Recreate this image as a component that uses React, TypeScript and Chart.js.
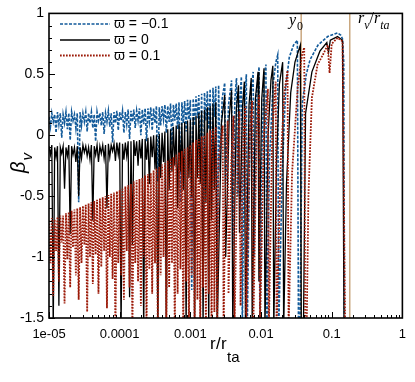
import React, { useEffect, useRef } from "react";
import { Chart, registerables } from "chart.js";
Chart.register(...registerables);

// ---- data (x stored as log10(r / r_ta), y = beta_v) ----
const denseLogR = [
  -5.00, -4.98, -4.96, -4.94, -4.92, -4.90, -4.88, -4.86, -4.84, -4.82,
  -4.80, -4.78, -4.76, -4.74, -4.72, -4.70, -4.68, -4.66, -4.64, -4.62,
  -4.60, -4.58, -4.56, -4.54, -4.52, -4.50, -4.48, -4.46, -4.44, -4.42,
  -4.40, -4.38, -4.36, -4.34, -4.32, -4.30, -4.28, -4.26, -4.24, -4.22,
  -4.20, -4.18, -4.16, -4.14, -4.12, -4.10, -4.08, -4.06, -4.04, -4.02,
  -4.00, -3.98, -3.96, -3.94, -3.92, -3.90, -3.88, -3.86, -3.84, -3.82,
  -3.80, -3.78, -3.76, -3.74, -3.72, -3.70, -3.68, -3.66, -3.64, -3.62,
  -3.60, -3.58, -3.56, -3.54, -3.52, -3.50, -3.48, -3.46, -3.44, -3.42,
  -3.40, -3.38, -3.36, -3.34, -3.32, -3.30, -3.28, -3.26, -3.24, -3.22,
  -3.20, -3.18, -3.16, -3.14, -3.12, -3.10, -3.08, -3.06, -3.04, -3.02,
  -3.00, -2.98, -2.96, -2.94, -2.92, -2.90, -2.88, -2.86, -2.84, -2.82,
  -2.80, -2.78, -2.76, -2.74, -2.72, -2.70, -2.68, -2.66, -2.64, -2.62,
];

const blueDense = [
  0.15, 0.07, 0.18, 0.11, 0.17, 0.02, 0.19, 0.09, 0.18, -0.02,
  0.17, 0.10, 0.19, 0.05, 0.18, -0.04, 0.19, 0.12, 0.17, 0.06,
  0.18, -0.55, 0.19, 0.08, 0.18, 0.11, 0.19, 0.03, 0.18, 0.10,
  0.19, 0.06, 0.17, -0.05, 0.19, 0.12, 0.18, 0.08, 0.19, 0.01,
  0.18, 0.11, 0.20, 0.07, 0.18, -0.06, 0.19, 0.10, 0.20, 0.04,
  0.19, 0.12, 0.20, 0.02, 0.19, 0.09, 0.21, -0.03, 0.20, 0.11,
  0.21, 0.06, 0.20, 0.12, 0.22, 0.00, 0.21, 0.09, 0.22, -0.05,
  0.22, 0.11, 0.23, 0.04, 0.22, 0.10, 0.24, -0.38, 0.23, 0.08,
  0.24, 0.13, 0.25, 0.02, 0.24, 0.11, 0.26, -0.08, 0.25, 0.12,
  0.26, 0.05, 0.27, -0.55, 0.27, 0.10, 0.28, 0.03, 0.29, 0.13,
  0.29, -1.27, 0.30, 0.08, 0.32, 0.14, 0.33, -0.20, 0.34, -1.14,
  0.35, 0.12, 0.36, 0.05, 0.38, -0.60, 0.39, 0.15, 0.40, -1.30,
];

const blackDense = [
  -0.09, -0.16, -0.08, -1.60, -0.10, -0.18, -0.09, -1.40, -0.10, -0.15,
  -0.09, -0.44, -0.10, -0.17, -0.08, -0.81, -0.09, -0.16, -0.10, -0.22,
  -0.09, -0.50, -0.10, -0.19, -0.08, -0.14, -0.09, -0.17, -0.10, -0.20,
  -0.08, -0.70, -0.09, -0.16, -0.08, -0.22, -0.09, -0.15, -0.08, -0.19,
  -0.08, -0.60, -0.07, -0.18, -0.08, -0.13, -0.07, -0.21, -0.06, -0.16,
  -0.06, -1.60, -0.07, -0.20, -0.06, -0.17, -0.05, -1.33, -0.05, -0.90,
  -0.04, -0.17, -0.05, -0.25, -0.04, -0.19, -0.03, -1.60, -0.03, -0.20,
  -0.02, -0.40, -0.01, -0.18, 0.00, -0.28, 0.00, -1.60, 0.01, -0.35,
  0.02, -0.22, 0.03, -1.60, 0.05, -0.45, 0.05, -0.30, 0.07, -0.25,
  0.08, -0.60, 0.09, -0.30, 0.10, -0.45, 0.11, -1.60, 0.12, -0.35,
  0.13, -0.50, 0.15, -1.60, 0.16, -0.35, 0.18, -0.40, 0.20, -1.60,
  0.21, -0.55, 0.23, -1.60, 0.24, -0.70, 0.26, -0.45, 0.27, -1.60,
];

const redDense = [
  -0.70, -1.05, -0.68, -1.32, -0.69, -0.95, -0.67, -1.20, -0.66, -0.88,
  -0.66, -1.38, -0.64, -1.02, -0.63, -1.25, -0.62, -0.92, -0.61, -1.15,
  -0.60, -1.35, -0.59, -1.05, -0.58, -0.90, -0.57, -1.45, -0.56, -1.00,
  -0.55, -1.22, -0.54, -0.98, -0.53, -1.30, -0.52, -1.08, -0.51, -0.95,
  -0.50, -1.42, -0.49, -1.00, -0.48, -1.18, -0.47, -1.60, -0.46, -1.05,
  -0.45, -1.15, -0.44, -1.35, -0.42, -0.95, -0.41, -1.25, -0.40, -1.60,
  -0.38, -1.05, -0.37, -1.20, -0.36, -1.40, -0.35, -1.00, -0.33, -1.60,
  -0.32, -1.10, -0.31, -1.30, -0.29, -1.05, -0.27, -1.60, -0.26, -1.15,
  -0.24, -1.00, -0.23, -1.60, -0.21, -1.25, -0.19, -1.05, -0.18, -1.60,
  -0.16, -1.30, -0.14, -1.10, -0.13, -1.60, -0.11, -1.20, -0.10, -1.60,
  -0.08, -1.15, -0.06, -1.60, -0.04, -1.35, -0.03, -1.60, -0.01, -1.25,
  0.00, -1.60, 0.02, -1.30, 0.04, -1.60, 0.05, -1.45, 0.07, -1.60,
];

const blueTail: [number, number][] = [
  [-2.60, 0.41], [-2.58, -0.3], [-2.55, 0.3], [-2.514, 0.43], [-2.50, -0.4],
  [-2.46, 0.25], [-2.417, 0.45], [-2.40, -0.9], [-2.37, 0.3], [-2.347, 0.47],
  [-2.33, -0.5], [-2.30, 0.3], [-2.278, 0.48], [-2.265, -1.6], [-2.23, 0.3],
  [-2.208, 0.50], [-2.195, -1.6], [-2.15, 0.3], [-2.111, 0.52], [-2.10, -1.0],
  [-2.06, 0.35], [-2.028, 0.56], [-2.015, -1.6], [-1.99, -0.2], [-1.96, 0.45],
  [-1.931, 0.58], [-1.917, -1.6], [-1.88, -0.2], [-1.83, 0.42], [-1.79, 0.6],
  [-1.764, 0.66], [-1.75, -1.6], [-1.70, -0.3], [-1.65, 0.4], [-1.60, 0.64],
  [-1.54, 0.74], [-1.486, 0.78], [-1.47, -1.6], [-1.45, -1.6], [-1.43, -0.5],
  [-1.417, 0.26], [-1.36, 0.5], [-1.306, 0.62], [-1.194, 0.74], [-1.056, 0.81],
  [-0.917, 0.84], [-0.87, 0.82], [-0.847, 0.79], [-0.83, 0.6], [-0.82, -1.6],
];

const blackTail: [number, number][] = [
  [-2.56, 0.1], [-2.514, 0.33], [-2.50, -1.0], [-2.45, 0.15], [-2.417, 0.37],
  [-2.40, -1.6], [-2.35, 0.2], [-2.319, 0.41], [-2.305, -0.8], [-2.26, 0.25],
  [-2.236, 0.44], [-2.22, -1.6], [-2.17, 0.25], [-2.139, 0.47], [-2.125, -1.6],
  [-2.08, 0.3], [-2.042, 0.52], [-2.03, -1.2], [-1.99, 0.3], [-1.958, 0.55],
  [-1.945, -1.6], [-1.90, 0.0], [-1.86, 0.45], [-1.833, 0.57], [-1.82, -1.6],
  [-1.78, -0.2], [-1.74, 0.42], [-1.694, 0.6], [-1.68, -1.6], [-1.64, -0.4],
  [-1.58, 0.35], [-1.52, 0.6], [-1.444, 0.74], [-1.43, -1.6], [-1.40, -1.6],
  [-1.37, 0.18], [-1.28, 0.52], [-1.167, 0.69], [-1.069, 0.76], [-1.045, 0.68],
  [-1.02, 0.78], [-0.917, 0.81], [-0.847, 0.78], [-0.826, -1.6],
];

const redTail: [number, number][] = [
  [-2.60, -0.2], [-2.542, 0.08], [-2.53, -1.6], [-2.50, -0.3], [-2.472, 0.12],
  [-2.46, -1.3], [-2.42, -0.2], [-2.389, 0.16], [-2.375, -1.6], [-2.33, -0.1],
  [-2.306, 0.20], [-2.29, -1.4], [-2.25, 0.0], [-2.222, 0.24], [-2.21, -1.6],
  [-2.16, 0.0], [-2.125, 0.28], [-2.11, -1.6], [-2.06, 0.05], [-2.028, 0.33],
  [-2.015, -1.6], [-1.96, 0.0], [-1.903, 0.38], [-1.89, -1.6], [-1.84, 0.05],
  [-1.792, 0.44], [-1.78, -1.6], [-1.72, -0.2], [-1.67, 0.35], [-1.625, 0.53],
  [-1.61, -1.6], [-1.56, -0.3], [-1.48, 0.4], [-1.42, 0.66], [-1.389, 0.72],
  [-1.375, -1.6], [-1.355, -1.6], [-1.33, -0.5], [-1.28, 0.31], [-1.2, 0.58],
  [-1.125, 0.66], [-1.056, 0.74], [-1.03, 0.51], [-1.0, 0.75], [-0.917, 0.80],
  [-0.847, 0.77], [-0.81, -1.6],
];

const seriesNames = ["\u03D6 = \u22120.1", "\u03D6 = 0", "\u03D6 = 0.1"];
const xTickValues = [1e-5, 1e-4, 1e-3, 1e-2, 1e-1, 1];
const xTickLabels = ["1e-05", "0.0001", "0.001", "0.01", "0.1", "1"];
const yTickValues = [1, 0.5, 0, -0.5, -1, -1.5];
const yTickLabels = ["1", "0.5", "0", "-0.5", "-1", "-1.5"];
const markerR = [0.037, 0.18];

// ---- styles ----
const BLUE = "#125a9a";
const BLACK = "#000000";
const RED = "#9c1a08";
const TAN = "#c9a77f";
const FONT = "'Liberation Sans Narrow','Liberation Sans',Arial,sans-serif";
const SERIF = "'Liberation Serif','DejaVu Serif',serif";

const styles = [
  { color: BLUE, dash: [3, 1.5], width: 1.6 },
  { color: BLACK, dash: [] as number[], width: 1.3 },
  { color: RED, dash: [1.7, 1.3], width: 1.8 },
];

const toPts = (ls: number[], bs: number[]) =>
  ls.map((l, i) => ({ x: Math.pow(10, l), y: bs[i] }));
const tailPts = (t: [number, number][]) =>
  t.map(([l, b]) => ({ x: Math.pow(10, l), y: b }));

const decorPlugin = {
  id: "decor",
  beforeDatasetsDraw(chart: any) {
    const { ctx, chartArea: a, scales } = chart;
    ctx.save();
    ctx.strokeStyle = TAN;
    ctx.lineWidth = 1.5;
    for (const r of markerR) {
      const px = scales.x.getPixelForValue(r);
      ctx.beginPath();
      ctx.moveTo(px, a.top);
      ctx.lineTo(px, a.bottom);
      ctx.stroke();
    }
    ctx.restore();
  },
  afterDraw(chart: any) {
    const { ctx, chartArea: a, scales } = chart;
    const x = scales.x;
    const y = scales.y;
    ctx.save();
    // ticks
    ctx.strokeStyle = "#000";
    ctx.lineWidth = 1;
    for (let k = -15; k <= 10; k++) {
      const py = Math.round(y.getPixelForValue(k / 10)) + 0.5;
      const len = k % 5 === 0 ? 6 : 3;
      ctx.beginPath();
      ctx.moveTo(a.left, py);
      ctx.lineTo(a.left + len, py);
      ctx.stroke();
    }
    for (let d = -5; d <= 0; d++) {
      for (let m = 1; m <= 9; m++) {
        const v = m * Math.pow(10, d);
        if (v > 1.0000001) break;
        const px = Math.round(x.getPixelForValue(v)) + 0.5;
        const len = m === 1 ? 6 : 3;
        ctx.beginPath();
        ctx.moveTo(px, a.bottom);
        ctx.lineTo(px, a.bottom - len);
        ctx.stroke();
      }
    }
    // frame
    ctx.lineWidth = 1.6;
    ctx.strokeRect(a.left, a.top, a.right - a.left, a.bottom - a.top);

    // legend
    const rows = [24, 40, 55.5];
    styles.forEach((s, i) => {
      ctx.strokeStyle = s.color;
      ctx.lineWidth = s.width;
      ctx.setLineDash(s.dash);
      ctx.beginPath();
      ctx.moveTo(60, rows[i]);
      ctx.lineTo(110, rows[i]);
      ctx.stroke();
      ctx.setLineDash([]);
      ctx.fillStyle = "#000";
      ctx.font = `14px ${FONT}`;
      ctx.textBaseline = "middle";
      ctx.textAlign = "left";
      ctx.fillText(seriesNames[i], 114, rows[i] + 0.5);
    });

    // x title
    ctx.fillStyle = "#000";
    ctx.textBaseline = "alphabetic";
    ctx.textAlign = "left";
    ctx.font = `17px ${FONT}`;
    ctx.fillText("r", 210, 349);
    ctx.fillText("/", 216, 349);
    ctx.fillText("r", 221, 349);
    ctx.font = `15px ${FONT}`;
    ctx.fillText("ta", 227, 362);

    // y title (rotated)
    ctx.save();
    ctx.translate(25, 173);
    ctx.rotate(-Math.PI / 2);
    ctx.font = `italic 20px ${FONT}`;
    ctx.fillText("\u03B2", 0, 0);
    const bw = ctx.measureText("\u03B2").width;
    ctx.font = `italic 15px ${FONT}`;
    ctx.fillText("v", bw + 1, 7);
    ctx.restore();

    // marker labels
    ctx.font = `italic 16px ${SERIF}`;
    ctx.fillText("y", 289, 25);
    ctx.font = `12px ${SERIF}`;
    ctx.fillText("0", 297, 30);

    let cx = 358;
    const put = (t: string, size: number, by: number, italic = true) => {
      ctx.font = `${italic ? "italic " : ""}${size}px ${SERIF}`;
      ctx.fillText(t, cx, by);
      cx += ctx.measureText(t).width;
    };
    put("r", 16, 23);
    put("v", 12, 29);
    put("/", 16, 23, false);
    put("r", 16, 23);
    put("ta", 12, 29);
    ctx.restore();
  },
};

export default function App() {
  const ref = useRef<HTMLCanvasElement>(null);
  useEffect(() => {
    if (!ref.current) return;
    const seriesData = [
      [...toPts(denseLogR, blueDense), ...tailPts(blueTail)],
      [...toPts(denseLogR, blackDense), ...tailPts(blackTail)],
      [...toPts(denseLogR, redDense), ...tailPts(redTail)],
    ];
    // draw order: red on top, then black, then blue
    const order = [2, 1, 0];
    const datasets = order.map((i) => ({
      label: seriesNames[i],
      data: seriesData[i],
      borderColor: styles[i].color,
      borderDash: styles[i].dash,
      borderWidth: styles[i].width,
      pointRadius: 0,
      pointHoverRadius: 0,
      fill: false,
      tension: 0,
      clip: 0,
    }));
    const chart = new Chart(ref.current, {
      type: "line",
      data: { datasets },
      plugins: [decorPlugin],
      options: {
        responsive: false,
        animation: false,
        events: [],
        layout: { padding: { top: 8, right: 6, left: 0, bottom: 0 } },
        plugins: { legend: { display: false }, tooltip: { enabled: false } },
        scales: {
          x: {
            type: "logarithmic",
            min: 1e-5,
            max: 1,
            border: { display: false },
            grid: { display: false, drawTicks: false },
            afterBuildTicks: (s: any) => {
              s.ticks = xTickValues.map((v) => ({ value: v }));
            },
            afterFit: (s: any) => {
              s.height = 64;
            },
            ticks: {
              autoSkip: false,
              maxRotation: 0,
              padding: 9,
              color: "#000",
              font: { family: FONT, size: 13 },
              callback: (_v: any, i: number) => xTickLabels[i],
            },
          },
          y: {
            type: "linear",
            min: -1.5,
            max: 1,
            border: { display: false },
            grid: { display: false, drawTicks: false },
            afterBuildTicks: (s: any) => {
              s.ticks = yTickValues.map((v) => ({ value: v }));
            },
            afterFit: (s: any) => {
              s.width = 49;
            },
            ticks: {
              padding: 5,
              color: "#000",
              font: { family: FONT, size: 14 },
              callback: (v: any) => {
                const i = yTickValues.findIndex((t) => Math.abs(t - v) < 1e-9);
                return i >= 0 ? yTickLabels[i] : "";
              },
            },
          },
        },
      },
    } as any);
    return () => chart.destroy();
  }, []);
  return (
    <div style={{ position: "absolute", left: 0, top: 0, width: 415, height: 382, background: "#fff" }}>
      <canvas ref={ref} width={415} height={382} style={{ display: "block", width: 415, height: 382 }} />
    </div>
  );
}
